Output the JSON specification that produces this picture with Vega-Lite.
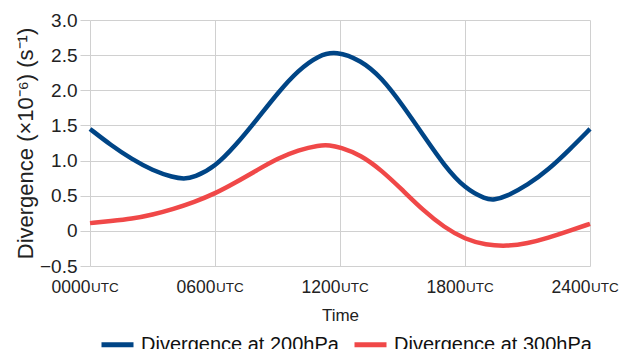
{
  "$schema": "https://vega.github.io/schema/vega-lite/v6.json",
  "width": 500,
  "height": 246,
  "autosize": "none",
  "padding": {"left": 90, "top": 20, "right": 30, "bottom": 83},
  "config": {
    "font": "Liberation Sans",
    "view": {"stroke": null},
    "axis": {"gridColor": "#d0d0d0", "tickColor": "#d0d0d0", "domain": false, "labelColor": "#222", "titleColor": "#222", "titleFontWeight": "normal", "labelOverlap": false, "labelFlush": false},
    "axisX": {"titleFontSize": 17, "titleX": 250, "titleY": 54, "titleBaseline": "alphabetic",
      "labelFontSize": 17.5, "labelAlign": "right", "labelPadding": 26, "labelBaseline": "alphabetic", "tickSize": 0},
    "axisY": {"titleFontSize": 22, "titleX": -58, "titleY": 123, "titleBaseline": "alphabetic",
      "labelFontSize": 19, "tickSize": 10, "labelPadding": 3}
  },
  "datasets": {
    "lines": [
      {"t": 0, "v": 1.45, "s": "Divergence at 200hPa"},
      {"t": 1, "v": 1.22, "s": "Divergence at 200hPa"},
      {"t": 2, "v": 1.02, "s": "Divergence at 200hPa"},
      {"t": 3, "v": 0.86, "s": "Divergence at 200hPa"},
      {"t": 4, "v": 0.76, "s": "Divergence at 200hPa"},
      {"t": 4.5, "v": 0.74, "s": "Divergence at 200hPa"},
      {"t": 5, "v": 0.76, "s": "Divergence at 200hPa"},
      {"t": 6, "v": 0.91, "s": "Divergence at 200hPa"},
      {"t": 7, "v": 1.22, "s": "Divergence at 200hPa"},
      {"t": 8, "v": 1.58, "s": "Divergence at 200hPa"},
      {"t": 9, "v": 1.96, "s": "Divergence at 200hPa"},
      {"t": 10, "v": 2.29, "s": "Divergence at 200hPa"},
      {"t": 11, "v": 2.5, "s": "Divergence at 200hPa"},
      {"t": 11.8, "v": 2.56, "s": "Divergence at 200hPa"},
      {"t": 13, "v": 2.43, "s": "Divergence at 200hPa"},
      {"t": 14, "v": 2.18, "s": "Divergence at 200hPa"},
      {"t": 15, "v": 1.79, "s": "Divergence at 200hPa"},
      {"t": 16, "v": 1.36, "s": "Divergence at 200hPa"},
      {"t": 17, "v": 0.93, "s": "Divergence at 200hPa"},
      {"t": 18, "v": 0.6, "s": "Divergence at 200hPa"},
      {"t": 19, "v": 0.45, "s": "Divergence at 200hPa"},
      {"t": 19.4, "v": 0.44, "s": "Divergence at 200hPa"},
      {"t": 20, "v": 0.49, "s": "Divergence at 200hPa"},
      {"t": 21, "v": 0.65, "s": "Divergence at 200hPa"},
      {"t": 22, "v": 0.87, "s": "Divergence at 200hPa"},
      {"t": 23, "v": 1.15, "s": "Divergence at 200hPa"},
      {"t": 24, "v": 1.45, "s": "Divergence at 200hPa"},
      {"t": 0, "v": 0.11, "s": "Divergence at 300hPa"},
      {"t": 1, "v": 0.14, "s": "Divergence at 300hPa"},
      {"t": 2, "v": 0.17, "s": "Divergence at 300hPa"},
      {"t": 3, "v": 0.23, "s": "Divergence at 300hPa"},
      {"t": 4, "v": 0.31, "s": "Divergence at 300hPa"},
      {"t": 5, "v": 0.41, "s": "Divergence at 300hPa"},
      {"t": 6, "v": 0.53, "s": "Divergence at 300hPa"},
      {"t": 7, "v": 0.69, "s": "Divergence at 300hPa"},
      {"t": 8, "v": 0.86, "s": "Divergence at 300hPa"},
      {"t": 9, "v": 1.03, "s": "Divergence at 300hPa"},
      {"t": 10, "v": 1.15, "s": "Divergence at 300hPa"},
      {"t": 11, "v": 1.22, "s": "Divergence at 300hPa"},
      {"t": 11.5, "v": 1.22, "s": "Divergence at 300hPa"},
      {"t": 12, "v": 1.19, "s": "Divergence at 300hPa"},
      {"t": 13, "v": 1.08, "s": "Divergence at 300hPa"},
      {"t": 14, "v": 0.86, "s": "Divergence at 300hPa"},
      {"t": 15, "v": 0.58, "s": "Divergence at 300hPa"},
      {"t": 16, "v": 0.29, "s": "Divergence at 300hPa"},
      {"t": 17, "v": 0.05, "s": "Divergence at 300hPa"},
      {"t": 18, "v": -0.12, "s": "Divergence at 300hPa"},
      {"t": 19, "v": -0.2, "s": "Divergence at 300hPa"},
      {"t": 20, "v": -0.22, "s": "Divergence at 300hPa"},
      {"t": 21, "v": -0.18, "s": "Divergence at 300hPa"},
      {"t": 22, "v": -0.1, "s": "Divergence at 300hPa"},
      {"t": 23, "v": 0.0, "s": "Divergence at 300hPa"},
      {"t": 24, "v": 0.1, "s": "Divergence at 300hPa"}
    ],
    "ticks": [
      {"t": 0, "u": "UTC", "base": -0.5},
      {"t": 6, "u": "UTC", "base": -0.5},
      {"t": 12, "u": "UTC", "base": -0.5},
      {"t": 18, "u": "UTC", "base": -0.5},
      {"t": 24, "u": "UTC", "base": -0.5}
    ]
  },
  "layer": [
    {
      "data": {"name": "lines"},
      "mark": {"type": "line", "interpolate": "basis", "strokeWidth": 4.5, "strokeCap": "butt"},
      "encoding": {
        "x": {"field": "t", "type": "quantitative", "scale": {"domain": [0, 24], "nice": false},
          "axis": {"values": [0, 6, 12, 18, 24], "title": "Time",
            "labelExpr": "(datum.value < 10 ? '0' + datum.value + '00' : datum.value + '00') + '\u00a0'"}},
        "y": {"field": "v", "type": "quantitative", "scale": {"domain": [-0.5, 3.0], "nice": false, "zero": false},
          "axis": {"values": [-0.5, 0, 0.5, 1, 1.5, 2, 2.5, 3], "title": "Divergence (×10⁻⁶) (s⁻¹)",
            "labelExpr": "datum.value == 0 ? '0' : format(datum.value, '.1f')"}},
        "color": {"field": "s", "type": "nominal",
          "scale": {"domain": ["Divergence at 200hPa", "Divergence at 300hPa"], "range": ["#004586", "#f04848"]},
          "legend": {"title": null, "orient": "none", "legendX": 9, "legendY": 306, "direction": "horizontal", "labelFontSize": 20, "labelColor": "#111",
            "labelLimit": 0, "symbolType": "stroke", "symbolSize": 1024, "symbolStrokeWidth": 5, "columnPadding": 5, "labelOffset": 5, "padding": 0}}
      }
    },
    {
      "data": {"name": "ticks"},
      "mark": {"type": "text", "align": "left", "baseline": "alphabetic", "fontSize": 13.5, "dx": 1, "dy": 26, "color": "#222"},
      "encoding": {
        "x": {"field": "t", "type": "quantitative",
          "axis": {"values": [0, 6, 12, 18, 24], "title": "Time",
            "labelExpr": "(datum.value < 10 ? '0' + datum.value + '00' : datum.value + '00') + '\u00a0'"}},
        "y": {"field": "base", "type": "quantitative",
          "axis": {"values": [-0.5, 0, 0.5, 1, 1.5, 2, 2.5, 3], "title": "Divergence (×10⁻⁶) (s⁻¹)",
            "labelExpr": "datum.value == 0 ? '0' : format(datum.value, '.1f')"}},
        "text": {"field": "u"}
      }
    }
  ]
}
